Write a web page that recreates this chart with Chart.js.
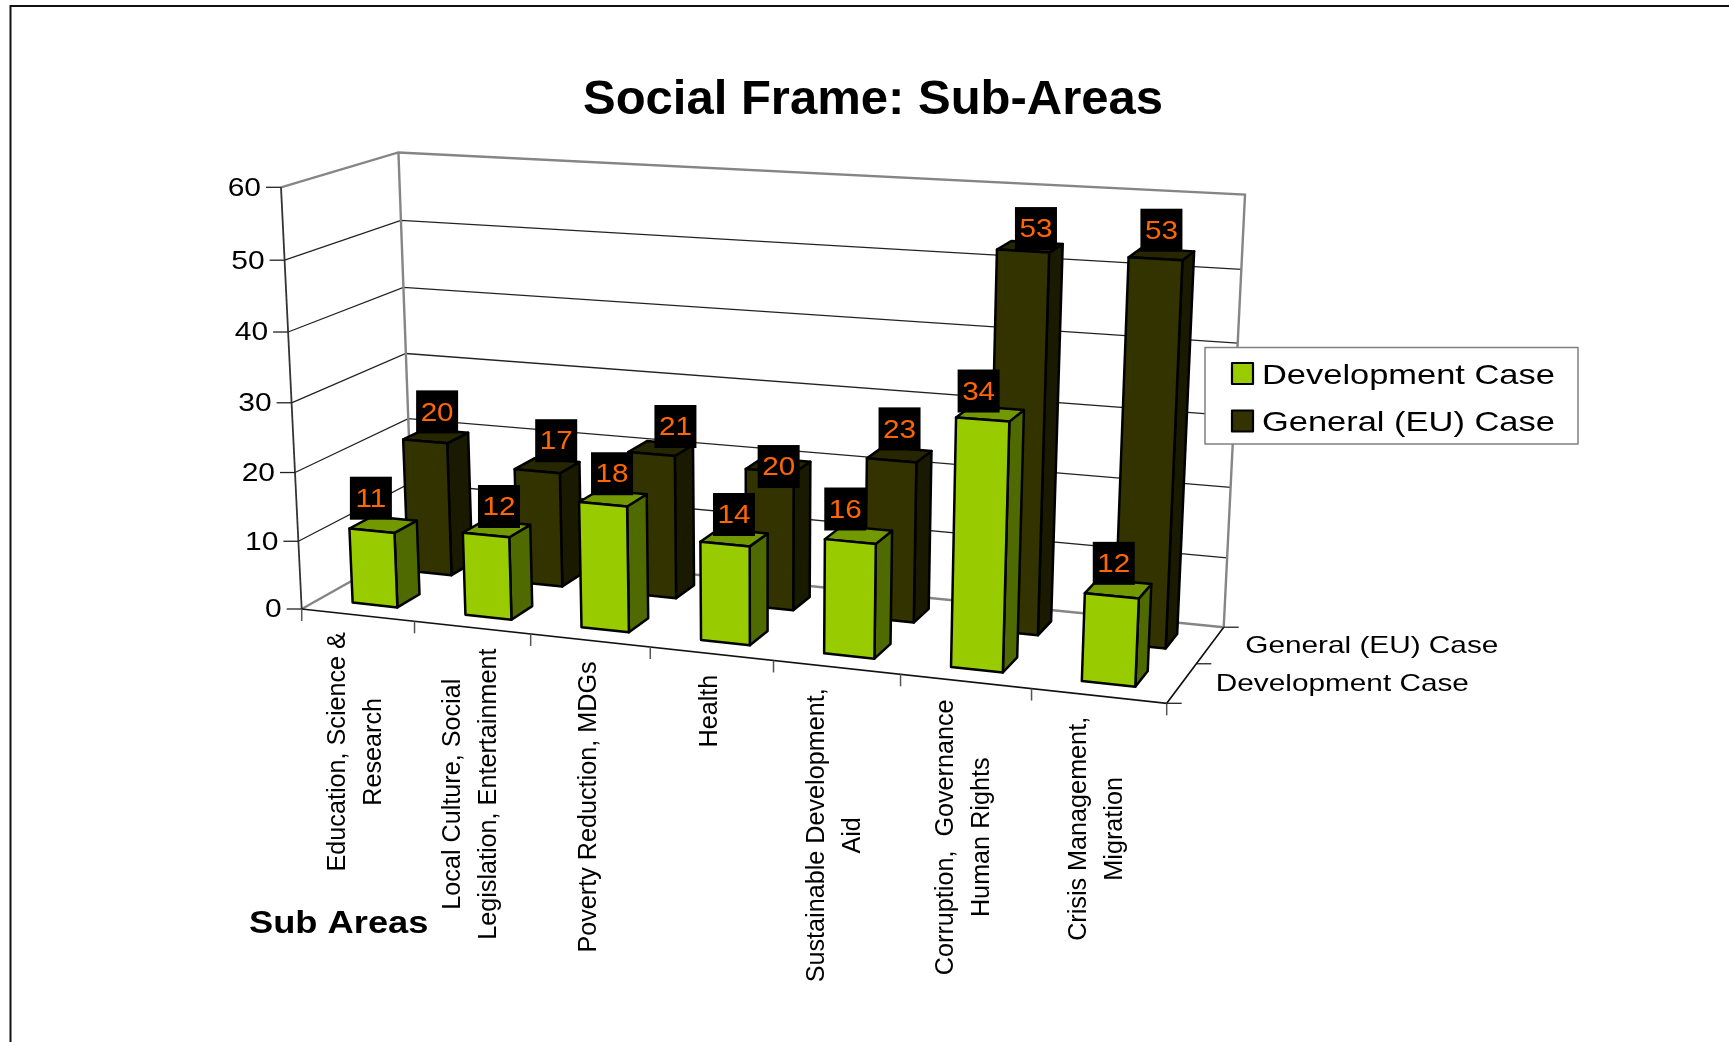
<!DOCTYPE html>
<html>
<head>
<meta charset="utf-8">
<title>Social Frame: Sub-Areas</title>
<script src="https://cdn.jsdelivr.net/npm/chart.js@4"></script>
<style>
  html, body { margin: 0; padding: 0; background: #fff; overflow: hidden; }
  canvas { display: block; }
</style>
</head>
<body>
<canvas id="chart" width="1729" height="1042"></canvas>
<script>
const categories = [
  ['Education, Science &', 'Research'],
  ['Local Culture, Social', 'Legislation, Entertainment'],
  ['Poverty Reduction, MDGs'],
  ['Health'],
  ['Sustainable Development,', 'Aid'],
  ['Corruption,  Governance', 'Human Rights'],
  ['Crisis Management,', 'Migration']
];
const seriesNames = ['Development Case', 'General (EU) Case'];
const developmentValues = [11, 12, 18, 14, 16, 34, 12];
const generalValues = [20, 17, 21, 20, 23, 53, 53];
const valueMax = 60;
const valueStep = 10;

const FONT = '"Liberation Sans", Arial, sans-serif';
const STRETCH = 1.2; // text in the picture is a bit wider than tall

// floor/wall box as seen on screen: where the three box edges end up, plus the perspective terms
const view = {
  origin: [301.7, 609],
  xEnd: [1166.7, 703.3],
  yEnd: [281, 187.3],
  zEnd: [413, 546.5],
  a: -0.1, b: -0.043, c: 0.074
};

// the value tags were placed by hand in the original, so they sit a little off their bars
const tagNudge = [
  [[-1, 0], [13, 4], [9, 2], [9, 3], [-5, 0], [-4, 4], [2, 0]],
  [[3, 0], [10, -1], [15, 2], [0, 25], [-1, -2], [4, 7], [-3, 1]]
];
const categoryNudge = [-4, 0, 0, 0, 0, -3, 0];

function project(u, v, w){
  const { origin: o, xEnd, yEnd, zEnd, a, b, c } = view;
  const d = 1 + a * u + b * v + c * w;
  const axis = (i) => u * (xEnd[i] - o[i]) * (1 + a) + v * (yEnd[i] - o[i]) * (1 + b) + w * (zEnd[i] - o[i]) * (1 + c);
  return [o[0] + axis(0) / d, o[1] + axis(1) / d];
}

function line(ctx, pts, color, width){
  ctx.beginPath();
  pts.forEach((p, i) => i ? ctx.lineTo(p[0], p[1]) : ctx.moveTo(p[0], p[1]));
  ctx.strokeStyle = color;
  ctx.lineWidth = width;
  ctx.stroke();
}

function face(ctx, pts, fill){
  ctx.beginPath();
  pts.forEach((p, i) => i ? ctx.lineTo(p[0], p[1]) : ctx.moveTo(p[0], p[1]));
  ctx.closePath();
  ctx.fillStyle = fill;
  ctx.fill();
  ctx.strokeStyle = '#000';
  ctx.lineWidth = 2.5;
  ctx.lineJoin = 'round';
  ctx.stroke();
}

function label(ctx, str, x, y, o = {}){
  ctx.save();
  ctx.translate(x, y);
  if(o.rotate) ctx.rotate(-Math.PI / 2);
  ctx.scale(o.sx || 1, 1);
  ctx.font = `${o.weight || 'normal'} ${o.size}px ${FONT}`;
  ctx.fillStyle = o.color || '#000';
  ctx.textAlign = o.align || 'left';
  ctx.textBaseline = o.baseline || 'alphabetic';
  ctx.fillText(str, 0, 0);
  ctx.restore();
}

function drawBox(ctx, yScale){
  const vOf = (tick) => tick / valueMax;
  yScale.ticks.forEach(t => {
    const v = vOf(t.value);
    if(v > 0 && v < 1) line(ctx, [project(0, v, 0), project(0, v, 1), project(1, v, 1)], '#222', 1.3);
  });
  line(ctx, [project(0, 0, 0), project(0, 0, 1), project(1, 0, 1)], '#858585', 2.4);
  line(ctx, [project(0, 1, 0), project(0, 1, 1), project(1, 1, 1), project(1, 0, 1)], '#858585', 2.4);
  line(ctx, [project(0, 1, 1), project(0, 0, 1)], '#858585', 2.4);
  line(ctx, [project(0, 1, 0), project(0, 0, 0)], '#333', 1.8);
  line(ctx, [project(0, 0, 0), project(1, 0, 0), project(1, 0, 1)], '#111', 1.6);
}

function drawAxes(ctx, chart){
  const yScale = chart.scales.y;
  yScale.ticks.forEach(t => {
    const [x, y] = project(0, t.value / valueMax, 0);
    line(ctx, [[x - 15, y], [x, y]], '#222', 1.3);
    label(ctx, String(t.value), x - 20, y + 1.5, { size: 25, sx: STRETCH, align: 'right', baseline: 'middle' });
  });

  for(let i = 0; i <= categories.length; i++){
    const [x, y] = project(i / categories.length, 0, 0);
    line(ctx, [[x, y], [x, y + 12]], '#555', 1.5);
  }
  ctx.font = `25.2px ${FONT}`;
  categories.forEach((lines, i) => {
    const [x, y] = project((i + 0.5) / categories.length, 0, 0);
    const longest = Math.max(...lines.map(s => ctx.measureText(s).width));
    const midY = y + 21 + longest / 2 + categoryNudge[i];
    lines.forEach((s, k) => {
      const bx = x + 5.5 + (k - (lines.length - 1) / 2) * 36;
      label(ctx, s, bx, midY, { size: 25.2, rotate: true, align: 'center' });
    });
  });

  seriesNames.forEach((name, i) => {
    const w = i / seriesNames.length;
    const [x, y] = project(1, 0, w);
    line(ctx, [[x, y], [x + 15, y]], '#222', 1.3);
  });
  const [bx, by] = project(1, 0, 1);
  line(ctx, [[bx, by], [bx + 15, by]], '#222', 1.3);
  const mid = project(1, 0, 0.75);
  label(ctx, seriesNames[1], mid[0] + 35, mid[1] + 8, { size: 24, sx: 1.24 });
  const near = project(1, 0, 0.25);
  label(ctx, seriesNames[0], near[0] + 34, near[1] + 8, { size: 24, sx: 1.24 });

  label(ctx, 'Sub Areas', 249, 933, { size: 31, weight: 'bold', sx: 1.17 });
}

function drawBars(ctx, chart){
  const area = chart.chartArea;
  const tags = [];
  [1, 0].forEach(ds => {
    const meta = chart.getDatasetMeta(ds);
    const set = chart.data.datasets[ds];
    const rowDepth = 0.5 * chart.options.datasets.bar.categoryPercentage;
    meta.data.forEach((el, i) => {
      const u0 = (el.x - el.width / 2 - area.left) / area.width;
      const u1 = (el.x + el.width / 2 - area.left) / area.width;
      const v0 = (area.bottom - el.base) / area.height;
      const v1 = (area.bottom - el.y) / area.height;
      const wMid = (ds + 0.5) / 2;
      const w0 = wMid - rowDepth / 2;
      const w1 = wMid + rowDepth / 2;
      face(ctx, [project(u1, v0, w0), project(u1, v0, w1), project(u1, v1, w1), project(u1, v1, w0)], set.sideColor);
      face(ctx, [project(u0, v1, w0), project(u1, v1, w0), project(u1, v1, w1), project(u0, v1, w1)], set.topColor);
      face(ctx, [project(u0, v0, w0), project(u1, v0, w0), project(u1, v1, w0), project(u0, v1, w0)], set.backgroundColor);
      const anchor = project((u0 + u1) / 2, v1, w0);
      const [nx, ny] = tagNudge[ds][i];
      tags.push({ value: set.data[i], x: anchor[0] + (ds ? 9 : 0) + nx, y: anchor[1] - (ds ? 8 : 11) + ny });
    });
  });
  tags.forEach(t => {
    ctx.fillStyle = '#000';
    ctx.fillRect(t.x - 21, t.y - 43, 42, 43);
    label(ctx, String(t.value), t.x, t.y - 20, { size: 26, sx: 1.14, align: 'center', baseline: 'middle', color: '#FF6600' });
  });
}

function drawLegend(ctx, chart){
  const x = 1205, y = 347.5, w = 373, h = 96.5;
  ctx.fillStyle = '#fff';
  ctx.fillRect(x, y, w, h);
  ctx.strokeStyle = '#808080';
  ctx.lineWidth = 1.5;
  ctx.strokeRect(x, y, w, h);
  chart.data.datasets.forEach((set, i) => {
    const rowY = y + 26 + i * 47.5;
    ctx.fillStyle = set.backgroundColor;
    ctx.fillRect(1232, rowY - 10.5, 21, 21);
    ctx.strokeStyle = '#000';
    ctx.lineWidth = 2.2;
    ctx.strokeRect(1232, rowY - 10.5, 21, 21);
    label(ctx, set.label, 1262, rowY + 10, { size: 28, sx: 1.23 });
  });
}

const box3d = {
  id: 'box3d',
  beforeDraw(chart){
    const ctx = chart.ctx;
    ctx.save();
    // page frame, only top and left show
    line(ctx, [[1729, 6], [10.5, 6], [10.5, 1042]], '#111', 2);
    drawBox(ctx, chart.scales.y);
    drawAxes(ctx, chart);
    drawBars(ctx, chart);
    drawLegend(ctx, chart);
    ctx.restore();
  },
  // the flat bars are only used for their scale positions
  beforeDatasetsDraw(){ return false; }
};

new Chart(document.getElementById('chart'), {
  type: 'bar',
  data: {
    labels: categories,
    datasets: [
      { label: seriesNames[0], data: developmentValues, backgroundColor: '#99CC00', sideColor: '#4F6A00', topColor: '#739900' },
      { label: seriesNames[1], data: generalValues, backgroundColor: '#333300', sideColor: '#1A1A00', topColor: '#262600' }
    ]
  },
  options: {
    responsive: false,
    animation: false,
    datasets: { bar: { grouped: false, categoryPercentage: 0.4, barPercentage: 1 } },
    layout: { padding: { left: 17 } },
    scales: {
      x: { display: false },
      y: { display: false, min: 0, max: valueMax, ticks: { stepSize: valueStep } }
    },
    plugins: {
      legend: { display: false },
      tooltip: { enabled: false },
      title: {
        display: true,
        text: 'Social Frame: Sub-Areas',
        color: '#000',
        font: { family: FONT, size: 49, weight: 'bold' },
        padding: { top: 71, bottom: 0 }
      }
    }
  },
  plugins: [box3d]
});
</script>
</body>
</html>
